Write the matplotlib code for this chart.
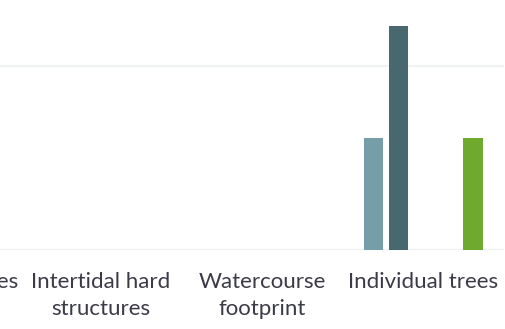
import matplotlib

matplotlib.use("Agg")
import matplotlib.pyplot as plt
import numpy as np

# Habitat categories (the first one is cut off at the left edge of the crop)
categories = ["Rivers and lakes", "Intertidal hard\nstructures",
              "Watercourse\nfootprint", "Individual trees"]
series_names = ["Series 1", "Series 2", "Series 3", "Series 4", "Series 5"]
series_values = [
    [0, 0, 0, 3.05],
    [0, 0, 0, 6.1],
    [0, 0, 0, 0],
    [0, 0, 0, 0],
    [0, 0, 0, 3.05],
]
series_colors = ["#769ea8", "#48686f", "#9fb8bf", "#2f4b52", "#6faa2f"]

W, H = 506, 329
fig = plt.figure(figsize=(W / 100, H / 100), dpi=100)
# axes reaches past the left edge: the reference is a crop of a wider chart
left_px, right_px, base_px = -141.5, 504, 249.7
ax = fig.add_axes([left_px / W, (H - base_px) / H,
                   (right_px - left_px) / W, base_px / H])

x = np.arange(len(categories))
n = len(series_names)
slot = 0.1538
bar_w = 0.121
for i, (name, vals, col) in enumerate(zip(series_names, series_values, series_colors)):
    offs = (i - (n - 1) / 2) * slot
    ax.bar(x + offs, vals, width=bar_w, color=col, label=name, zorder=3,
           linewidth=0)

ax.set_xlim(-0.5, len(categories) - 0.5)
ax.set_ylim(0, 6.8)
ax.set_yticks([0, 5])
ax.yaxis.grid(True, color="#eef2f2", linewidth=1.6, zorder=0)
ax.set_yticklabels([])
ax.tick_params(axis="y", length=0)
ax.set_xticks(x)
ax.set_xticklabels(categories, fontsize=16, color="#3b3b48",
                   family=["Lato", "DejaVu Sans"], linespacing=1.45)
ax.tick_params(axis="x", length=0, pad=16)
for s in ax.spines.values():
    s.set_visible(False)
ax.set_facecolor("white")

fig.savefig("out.png", dpi=100)
